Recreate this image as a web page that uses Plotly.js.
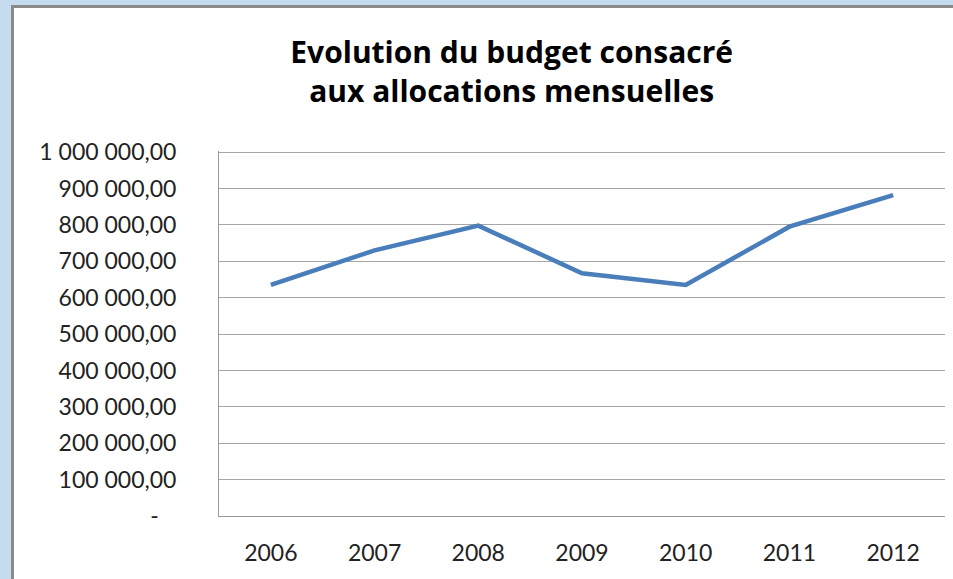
<!DOCTYPE html>
<html>
<head>
<meta charset="utf-8">
<script src="https://cdn.plot.ly/plotly-3.0.1.min.js"></script>
<style>
  html, body { margin: 0; padding: 0; background: #C5DCEF; width: 953px; height: 579px; overflow: hidden; }
  #frame { position: absolute; left: 11px; top: 5px; width: 960px; height: 590px;
           border-left: 3px solid #8a8a8a; border-top: 3px solid #8a8a8a; background: #fff; }
  #chart { width: 939px; height: 571px; }
</style>
</head>
<body>
<div id="frame"><div id="chart"></div></div>
<script>
const years = ['2006', '2007', '2008', '2009', '2010', '2011', '2012'];
const budget = [635000, 730000, 798000, 667000, 635000, 795000, 882000];
const yTickVals = [0, 100000, 200000, 300000, 400000, 500000, 600000, 700000, 800000, 900000, 1000000];
const yTickText = ['-\u00a0\u00a0\u00a0', '100 000,00', '200 000,00', '300 000,00', '400 000,00', '500 000,00',
                   '600 000,00', '700 000,00', '800 000,00', '900 000,00', '1 000 000,00'];
const titleText = 'Evolution du budget consacré<br>aux allocations mensuelles';

const font = 'Lato, "Open Sans", sans-serif';
const titleFont = '"Open Sans", Lato, sans-serif';

Plotly.newPlot('chart', [{
  x: years,
  y: budget,
  type: 'scatter',
  mode: 'lines',
  line: { color: '#4A7EBB', width: 4.5 },
  hoverinfo: 'x+y'
}], {
  width: 939,
  height: 571,
  paper_bgcolor: '#ffffff',
  plot_bgcolor: '#ffffff',
  margin: { l: 205, r: 8, t: 143, b: 63 },
  showlegend: false,
  title: {
    text: titleText,
    font: { family: titleFont, size: 30, color: '#000000', weight: 'bold' },
    x: 0.530, xref: 'container', xanchor: 'center',
    y: 0.903, yref: 'container', yanchor: 'top'
  },
  xaxis: {
    type: 'category',
    range: [-0.5, 6.5],
    showgrid: false,
    showline: true,
    linecolor: '#9a9a9a',
    linewidth: 1,
    ticks: '',
    ticklabelstandoff: 16,
    tickfont: { family: font, size: 23, color: '#222222' },
    zeroline: false,
    fixedrange: true
  },
  yaxis: {
    range: [0, 1003000],
    tickvals: yTickVals,
    ticktext: yTickText,
    showgrid: true,
    gridcolor: '#a6a6a6',
    gridwidth: 1,
    showline: true,
    linecolor: '#9a9a9a',
    linewidth: 1,
    ticks: '',
    ticklabelstandoff: 37,
    tickfont: { family: font, size: 23, color: '#222222' },
    zeroline: false,
    fixedrange: true
  }
}, { displayModeBar: false, staticPlot: true });
</script>
</body>
</html>
